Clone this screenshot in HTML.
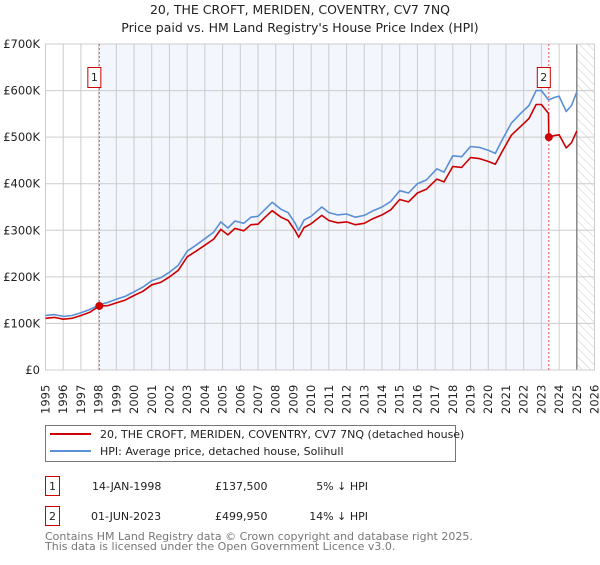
<!DOCTYPE html>
<html><head><meta charset="utf-8"><style>
body{margin:0;background:#fff;font-family:"Liberation Sans","DejaVu Sans",sans-serif;}
svg text{font-family:"DejaVu Sans","Liberation Sans",sans-serif;}
</style></head><body>
<svg id="chart" width="600" height="560" viewBox="0 0 600 560" xmlns="http://www.w3.org/2000/svg">
<defs><pattern id="hatch" width="6" height="6" patternUnits="userSpaceOnUse" patternTransform="rotate(-45)"><line x1="0" y1="0" x2="0" y2="6" stroke="#ccc" stroke-width="1"/></pattern></defs>
<text x="300" y="14" text-anchor="middle" font-size="12.5" fill="#222">20, THE CROFT, MERIDEN, COVENTRY, CV7 7NQ</text>
<text x="300" y="32" text-anchor="middle" font-size="12.5" fill="#222">Price paid vs. HM Land Registry's House Price Index (HPI)</text>
<g id="plot"></g>
<g>
<rect x="45.5" y="425.5" width="410" height="36" fill="#fff" stroke="#777"/>
<line x1="50" y1="434" x2="91" y2="434" stroke="#cc0000" stroke-width="2"/>
<text x="100" y="438" font-size="11" fill="#222">20, THE CROFT, MERIDEN, COVENTRY, CV7 7NQ (detached house)</text>
<line x1="50" y1="451" x2="91" y2="451" stroke="#5b8fd6" stroke-width="2"/>
<text x="100" y="455" font-size="11" fill="#222">HPI: Average price, detached house, Solihull</text>
</g>
<g font-size="11" fill="#222">
<rect x="45.5" y="476.5" width="14" height="19" fill="#fff" stroke="#cc0000"/>
<text x="52.5" y="490" text-anchor="middle">1</text>
<text x="92" y="490">14-JAN-1998</text><text x="215" y="490">£137,500</text><text x="368" y="490" text-anchor="end">5% ↓ HPI</text>
<rect x="45.5" y="506.5" width="14" height="19" fill="#fff" stroke="#cc0000"/>
<text x="52.5" y="520" text-anchor="middle">2</text>
<text x="91" y="520">01-JUN-2023</text><text x="215" y="520">£499,950</text><text x="368" y="520" text-anchor="end">14% ↓ HPI</text>
</g>
<text x="45" y="540" font-size="11" fill="#777">Contains HM Land Registry data © Crown copyright and database right 2025.</text>
<text x="45" y="550" font-size="11" fill="#777">This data is licensed under the Open Government Licence v3.0.</text>
</svg>
<script>
const dates=[1995.0,1995.5,1996.0,1996.5,1997.0,1997.5,1998.04,1998.5,1999.0,1999.5,2000.0,2000.5,2001.0,2001.5,2002.0,2002.5,2003.0,2003.5,2004.0,2004.5,2004.9,2005.3,2005.7,2006.2,2006.6,2007.0,2007.4,2007.8,2008.3,2008.7,2009.1,2009.3,2009.6,2010.0,2010.6,2011.0,2011.5,2012.0,2012.5,2013.0,2013.5,2014.0,2014.5,2015.0,2015.5,2016.0,2016.5,2017.1,2017.5,2018.0,2018.5,2019.0,2019.5,2020.0,2020.4,2020.8,2021.3,2021.8,2022.3,2022.7,2023.0,2023.4,2023.42,2023.7,2024.0,2024.4,2024.7,2025.0];
const hpiValues=[117,119,115,117,123,130,140,145,152,158,168,178,192,198,210,225,255,268,282,296,318,305,320,315,328,330,345,360,345,338,315,300,322,330,350,338,333,335,328,332,342,350,362,385,380,400,408,432,425,460,458,480,478,472,465,495,530,550,568,600,600,580,580,585,588,555,568,597];
const priceValues=[111,113,109,111,117,124,137.5,138,144,150,160,169,183,188,200,214,243,255,268,281,302,290,304,299,312,313,328,342,328,321,299,285,306,314,332,321,316,318,312,315,325,333,344,366,361,380,388,410,404,437,435,456,454,448,442,470,504,522,540,570,570,551,500,503,505,477,488,513];
const saleDates=[1998.04,2023.42];
const salePrices=[137.5,499.95];
const saleLabels=["1","2"];
const yTicks=[0,100,200,300,400,500,600,700];
const yTickLabels=["£0","£100K","£200K","£300K","£400K","£500K","£600K","£700K"];
const xTicks=[1995,1996,1997,1998,1999,2000,2001,2002,2003,2004,2005,2006,2007,2008,2009,2010,2011,2012,2013,2014,2015,2016,2017,2018,2019,2020,2021,2022,2023,2024,2025,2026];
const X0=45.5,X1=594.5,Y0=370,Y1=44;
const xs=d=>X0+(d-1995)/(2026-1995)*(X1-X0);
const ys=v=>Y0-v/700*(Y0-Y1);
const NS="http://www.w3.org/2000/svg";
const g=document.getElementById('plot');
function mk(t,a,p){const e=document.createElementNS(NS,t);for(const k in a)e.setAttribute(k,a[k]);(p||g).appendChild(e);return e;}
mk('rect',{x:xs(saleDates[0]),y:Y1,width:xs(saleDates[1])-xs(saleDates[0]),height:Y0-Y1,fill:'#f0f4fd',opacity:0.8});
mk('rect',{x:xs(2025),y:Y1,width:X1-xs(2025),height:Y0-Y1,fill:'url(#hatch)'});
yTicks.forEach((v,i)=>{
 const l=mk('line',{x1:X0,x2:X1,y1:ys(v),y2:ys(v),stroke:'#ccc'});
 
 
 const t=mk('text',{x:40,y:ys(v)+4,'text-anchor':'end','font-size':11.5,fill:'#222'});
 t.textContent=yTickLabels[i];
 
 
});
xTicks.forEach(d=>{
 const l=mk('line',{x1:xs(d),x2:xs(d),y1:Y1,y2:Y0,stroke:'#ccc'});
 
 
 const t=mk('text',{x:0,y:0,'font-size':11.5,fill:'#222',transform:`translate(${xs(d)+4},414) rotate(-90)`});
 t.textContent=String(d);
 
 
});
mk('line',{x1:xs(2025),x2:xs(2025),y1:Y1,y2:Y0,stroke:'#888','stroke-width':1.5});
mk('rect',{x:X0,y:Y1,width:X1-X0,height:Y0-Y1,fill:'none',stroke:'#ccc'});
saleDates.forEach((d,i)=>{
 const l=mk('line',{x1:xs(d),x2:xs(d),y1:Y1,y2:Y0,stroke:'#ee5555','stroke-dasharray':'2,2'});
 
 
});
const path=(vals,col,name)=>{
 const p=mk('path',{d:dates.map((d,i)=>(i?'L':'M')+xs(d).toFixed(1)+','+ys(vals[i]).toFixed(1)).join(''),fill:'none',stroke:col,'stroke-width':1.6,'stroke-linejoin':'round'});
 
 
};
path(hpiValues,'#5b8fd6','hpi-line');
path(priceValues,'#cc0000','price-paid-line');
saleDates.forEach((d,i)=>{
 const c=mk('circle',{cx:xs(d),cy:ys(salePrices[i]),r:4,fill:'#cc0000'});
 
 
 const bx=xs(d)-12;
 const r=mk('rect',{x:bx+0.5,y:67.5,width:13,height:20,fill:'#fff',stroke:'#cc0000'});
 
 
 const t=mk('text',{x:bx+7,y:81,'text-anchor':'middle','font-size':11,fill:'#222'});
 t.textContent=saleLabels[i];
 
 
});
</script>
</body></html>
